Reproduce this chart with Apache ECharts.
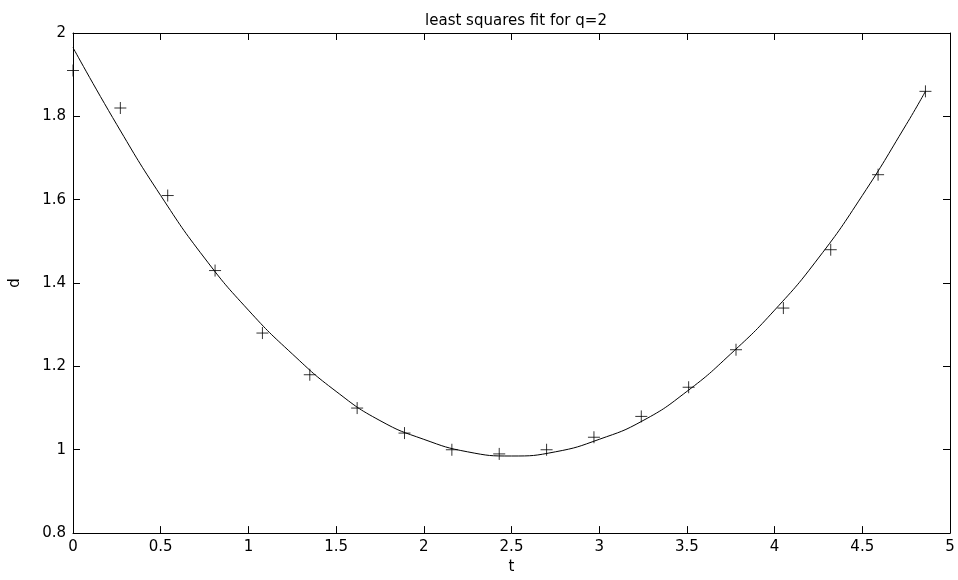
<!DOCTYPE html>
<html>
<head>
<meta charset="utf-8">
<title>least squares fit for q=2</title>
<script src="https://cdn.jsdelivr.net/npm/echarts@6/dist/echarts.min.js"></script>
<style>
  html, body { margin: 0; padding: 0; background: #fff; }
  #chart { width: 958px; height: 580px; }
</style>
</head>
<body>
<div id="chart"></div>
<script>
// measured points (t, d)
const tData = [0, 0.27, 0.54, 0.81, 1.08, 1.35, 1.62, 1.89, 2.16, 2.43, 2.70, 2.97, 3.24, 3.51, 3.78, 4.05, 4.32, 4.59, 4.86];
const dData = [1.91, 1.82, 1.61, 1.43, 1.28, 1.18, 1.10, 1.04, 1.00, 0.99, 1.00, 1.03, 1.08, 1.15, 1.24, 1.34, 1.48, 1.66, 1.86];

// fitted curve
const fitT = [0, 0.25, 0.5, 0.75, 1.0, 1.25, 1.5, 1.75, 2.0, 2.25, 2.5, 2.75, 3.0, 3.25, 3.5, 3.75, 4.0, 4.25, 4.5, 4.75, 4.86];
const fitD = [1.965, 1.78, 1.61, 1.46, 1.335, 1.23, 1.14, 1.07, 1.025, 0.995, 0.985, 0.995, 1.025, 1.07, 1.14, 1.23, 1.335, 1.46, 1.61, 1.78, 1.86];

const font = 'DejaVu Sans';

const chart = echarts.init(document.getElementById('chart'));

// plain black frame with ticks inside, like matlab
const axisCommon = {
  type: 'value',
  axisLine: { show: true, onZero: false, lineStyle: { color: '#000', width: 1 } },
  axisTick: { show: true, inside: true, length: 7, lineStyle: { color: '#000' } },
  splitLine: { show: false }
};

const option = {
  animation: false,
  backgroundColor: '#fff',
  title: {
    text: 'least squares fit for q=2',
    left: 511,
    top: 9,
    textAlign: 'center',
    textStyle: { fontFamily: font, fontSize: 15, fontWeight: 'normal', color: '#000' }
  },
  grid: { left: 67, right: 8, top: 33, bottom: 39 },
  xAxis: [
    Object.assign({}, axisCommon, {
      position: 'bottom',
      min: 0, max: 5, interval: 0.5,
      name: 't',
      nameLocation: 'middle',
      nameGap: 26,
      nameTextStyle: { fontFamily: font, fontSize: 15, color: '#000' },
      axisLabel: { fontFamily: font, fontSize: 15, color: '#000', margin: 7 }
    }),
    Object.assign({}, axisCommon, {
      position: 'top',
      min: 0, max: 5, interval: 0.5,
      axisLabel: { show: false }
    })
  ],
  yAxis: [
    Object.assign({}, axisCommon, {
      position: 'left',
      min: 0.8, max: 2, interval: 0.2,
      name: 'd',
      nameLocation: 'middle',
      nameRotate: 90,
      nameGap: 50,
      nameTextStyle: { fontFamily: font, fontSize: 15, color: '#000' },
      axisLabel: { fontFamily: font, fontSize: 15, color: '#000', margin: 7 }
    }),
    Object.assign({}, axisCommon, {
      position: 'right',
      min: 0.8, max: 2, interval: 0.2,
      axisLabel: { show: false }
    })
  ],
  series: [
    {
      name: 'fit',
      type: 'line',
      smooth: true,
      showSymbol: false,
      data: fitT.map((t, i) => [t, fitD[i]]),
      lineStyle: { color: '#000', width: 1 }
    },
    {
      name: 'data',
      type: 'scatter',
      symbol: 'path://M5,0 L5,10 M0,5 L10,5',
      symbolSize: 12,
      data: tData.map((t, i) => [t, dData[i]]),
      itemStyle: { color: 'none', borderColor: '#000', borderWidth: 1 }
    }
  ]
};

chart.setOption(option);
</script>
</body>
</html>
